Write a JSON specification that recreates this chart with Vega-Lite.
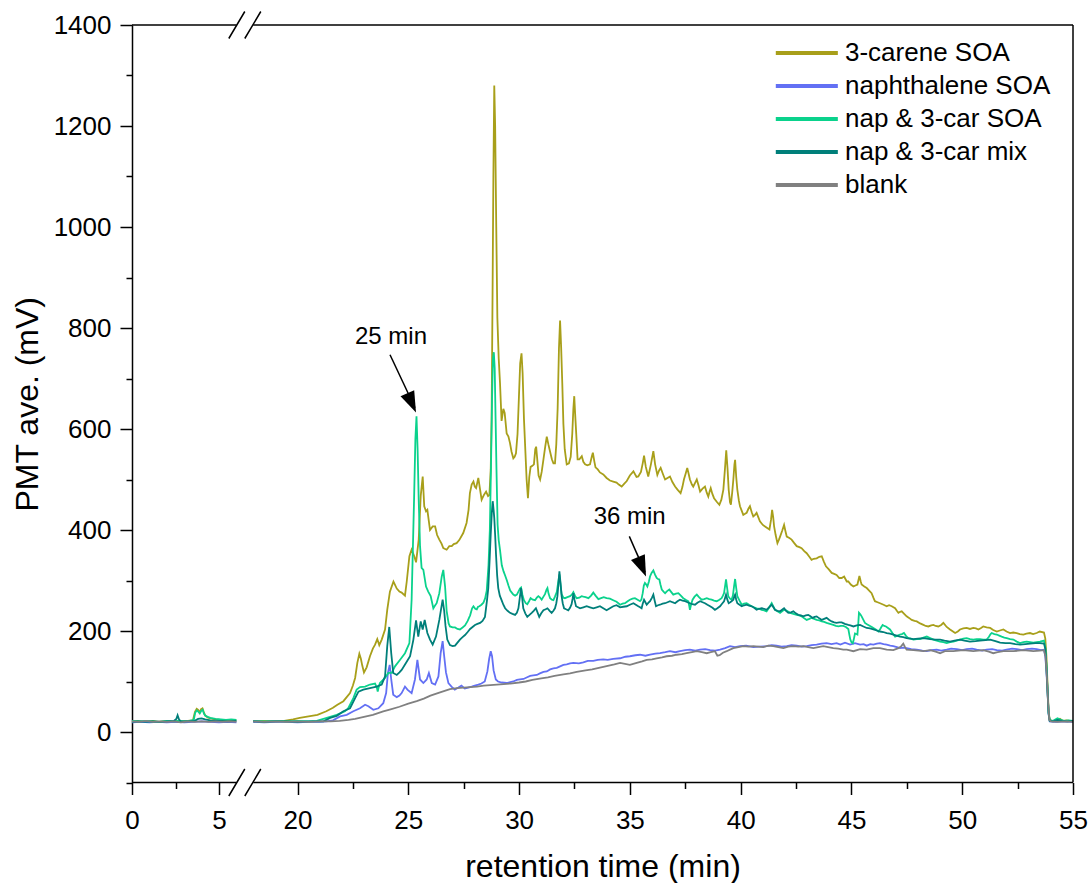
{
  "$schema": "https://vega.github.io/schema/vega-lite/v6.json",
  "width": 941,
  "height": 757.5,
  "autosize": {"type": "none"},
  "padding": {"left": 132, "top": 25, "right": 18, "bottom": 100.5},
  "background": "white",
  "config": {"view": {"stroke": null}, "font": "Liberation Sans", "axis": {"grid": false, "tickSize": 12}},
  "datasets": {
    "carene": [
      {"t":0,"v":21},{"t":0.3,"v":22},{"t":0.6,"v":20},{"t":0.9,"v":21},{"t":1.2,"v":22},{"t":1.5,"v":20},{"t":1.8,"v":21},{"t":2.1,"v":22},{"t":2.4,"v":20},{"t":2.6,"v":22},{"t":2.9,"v":21},{"t":3.2,"v":22},{"t":3.5,"v":23},{"t":3.62,"v":40},{"t":3.72,"v":46},{"t":3.8,"v":44},{"t":3.88,"v":38},{"t":3.96,"v":45},{"t":4.05,"v":47},{"t":4.12,"v":40},{"t":4.2,"v":33},{"t":4.35,"v":29},{"t":4.5,"v":27},{"t":4.8,"v":25},{"t":5.1,"v":24},{"t":5.4,"v":23},{"t":5.7,"v":24},{"t":6,"v":23},
      {"t":12,"v":null},
      {"t":18,"v":21},{"t":18.5,"v":22},{"t":19,"v":21},{"t":19.4,"v":22},{"t":19.8,"v":25},{"t":20.1,"v":28},{"t":20.5,"v":31},{"t":20.9,"v":34},{"t":21.3,"v":41},{"t":21.6,"v":48},{"t":21.8,"v":54},{"t":22.07,"v":61},{"t":22.37,"v":77},{"t":22.5,"v":92},{"t":22.6,"v":107},{"t":22.7,"v":137},{"t":22.79,"v":155},{"t":22.86,"v":145},{"t":22.92,"v":132},{"t":23,"v":118},{"t":23.12,"v":128},{"t":23.27,"v":150},{"t":23.4,"v":165},{"t":23.5,"v":173},{"t":23.6,"v":184},{"t":23.69,"v":172},{"t":23.8,"v":183},{"t":23.95,"v":203},{"t":24.05,"v":242},{"t":24.17,"v":278},{"t":24.33,"v":298},{"t":24.48,"v":284},{"t":24.6,"v":278},{"t":24.7,"v":276},{"t":24.85,"v":270},{"t":24.93,"v":298},{"t":25.05,"v":348},{"t":25.15,"v":361},{"t":25.26,"v":349},{"t":25.35,"v":336},{"t":25.47,"v":381},{"t":25.56,"v":467},{"t":25.65,"v":506},{"t":25.72,"v":447},{"t":25.8,"v":437},{"t":25.86,"v":440},{"t":25.98,"v":400},{"t":26.1,"v":407},{"t":26.21,"v":407},{"t":26.3,"v":390},{"t":26.4,"v":381},{"t":26.5,"v":373},{"t":26.58,"v":364},{"t":26.73,"v":361},{"t":26.85,"v":368},{"t":26.96,"v":368},{"t":27.05,"v":372},{"t":27.18,"v":374},{"t":27.3,"v":380},{"t":27.48,"v":394},{"t":27.63,"v":414},{"t":27.72,"v":440},{"t":27.78,"v":473},{"t":27.86,"v":490},{"t":27.94,"v":496},{"t":28,"v":486},{"t":28.06,"v":483},{"t":28.16,"v":503},{"t":28.24,"v":480},{"t":28.31,"v":460},{"t":28.42,"v":470},{"t":28.51,"v":476},{"t":28.6,"v":467},{"t":28.66,"v":469},{"t":28.72,"v":520},{"t":28.76,"v":620},{"t":28.8,"v":850},{"t":28.84,"v":1100},{"t":28.88,"v":1280},{"t":28.92,"v":1200},{"t":28.97,"v":1000},{"t":29.02,"v":820},{"t":29.08,"v":740},{"t":29.14,"v":690},{"t":29.21,"v":616},{"t":29.29,"v":640},{"t":29.35,"v":632},{"t":29.44,"v":591},{"t":29.52,"v":585},{"t":29.59,"v":572},{"t":29.66,"v":555},{"t":29.74,"v":542},{"t":29.8,"v":545},{"t":29.86,"v":552},{"t":29.93,"v":590},{"t":29.99,"v":660},{"t":30.05,"v":730},{"t":30.11,"v":750},{"t":30.16,"v":710},{"t":30.22,"v":620},{"t":30.28,"v":560},{"t":30.34,"v":500},{"t":30.4,"v":463},{"t":30.46,"v":505},{"t":30.52,"v":525},{"t":30.6,"v":527},{"t":30.67,"v":530},{"t":30.73,"v":560},{"t":30.77,"v":565},{"t":30.82,"v":540},{"t":30.88,"v":508},{"t":30.95,"v":500},{"t":31.02,"v":515},{"t":31.1,"v":540},{"t":31.18,"v":565},{"t":31.25,"v":585},{"t":31.32,"v":570},{"t":31.4,"v":555},{"t":31.48,"v":540},{"t":31.55,"v":532},{"t":31.62,"v":532},{"t":31.68,"v":570},{"t":31.74,"v":640},{"t":31.8,"v":760},{"t":31.85,"v":815},{"t":31.9,"v":760},{"t":31.95,"v":690},{"t":32,"v":610},{"t":32.06,"v":560},{"t":32.15,"v":530},{"t":32.25,"v":532},{"t":32.33,"v":545},{"t":32.4,"v":590},{"t":32.45,"v":640},{"t":32.49,"v":665},{"t":32.53,"v":630},{"t":32.58,"v":590},{"t":32.64,"v":540},{"t":32.72,"v":540},{"t":32.83,"v":546},{"t":32.9,"v":535},{"t":32.98,"v":530},{"t":33.08,"v":528},{"t":33.2,"v":530},{"t":33.28,"v":545},{"t":33.33,"v":553},{"t":33.4,"v":535},{"t":33.45,"v":524},{"t":33.55,"v":520},{"t":33.65,"v":514},{"t":33.8,"v":510},{"t":33.95,"v":503},{"t":34.1,"v":498},{"t":34.25,"v":496},{"t":34.4,"v":494},{"t":34.5,"v":490},{"t":34.63,"v":486},{"t":34.75,"v":492},{"t":34.86,"v":497},{"t":35,"v":508},{"t":35.16,"v":516},{"t":35.3,"v":505},{"t":35.38,"v":506},{"t":35.5,"v":515},{"t":35.58,"v":532},{"t":35.64,"v":547},{"t":35.72,"v":525},{"t":35.83,"v":506},{"t":35.95,"v":530},{"t":36.06,"v":556},{"t":36.14,"v":530},{"t":36.24,"v":509},{"t":36.32,"v":518},{"t":36.39,"v":523},{"t":36.5,"v":510},{"t":36.59,"v":500},{"t":36.7,"v":503},{"t":36.81,"v":506},{"t":36.92,"v":495},{"t":37.04,"v":486},{"t":37.15,"v":480},{"t":37.29,"v":473},{"t":37.37,"v":485},{"t":37.44,"v":500},{"t":37.52,"v":512},{"t":37.59,"v":523},{"t":37.66,"v":510},{"t":37.71,"v":500},{"t":37.8,"v":490},{"t":37.86,"v":486},{"t":37.95,"v":494},{"t":38.02,"v":500},{"t":38.1,"v":488},{"t":38.17,"v":476},{"t":38.28,"v":482},{"t":38.39,"v":486},{"t":38.47,"v":474},{"t":38.54,"v":466},{"t":38.6,"v":476},{"t":38.65,"v":483},{"t":38.72,"v":472},{"t":38.8,"v":463},{"t":38.92,"v":456},{"t":39.04,"v":450},{"t":39.13,"v":460},{"t":39.22,"v":480},{"t":39.29,"v":520},{"t":39.35,"v":558},{"t":39.41,"v":520},{"t":39.46,"v":480},{"t":39.52,"v":455},{"t":39.56,"v":450},{"t":39.62,"v":475},{"t":39.67,"v":500},{"t":39.72,"v":530},{"t":39.75,"v":539},{"t":39.8,"v":505},{"t":39.85,"v":480},{"t":39.92,"v":458},{"t":39.97,"v":447},{"t":40.05,"v":438},{"t":40.12,"v":430},{"t":40.2,"v":432},{"t":40.27,"v":434},{"t":40.35,"v":442},{"t":40.42,"v":447},{"t":40.5,"v":435},{"t":40.57,"v":427},{"t":40.65,"v":430},{"t":40.72,"v":434},{"t":40.8,"v":425},{"t":40.87,"v":417},{"t":41,"v":410},{"t":41.1,"v":407},{"t":41.2,"v":404},{"t":41.3,"v":401},{"t":41.37,"v":420},{"t":41.42,"v":440},{"t":41.47,"v":425},{"t":41.51,"v":407},{"t":41.58,"v":390},{"t":41.66,"v":374},{"t":41.72,"v":380},{"t":41.78,"v":387},{"t":41.87,"v":398},{"t":41.96,"v":410},{"t":42.02,"v":398},{"t":42.08,"v":387},{"t":42.2,"v":384},{"t":42.3,"v":381},{"t":42.42,"v":374},{"t":42.53,"v":368},{"t":42.65,"v":366},{"t":42.75,"v":364},{"t":42.87,"v":358},{"t":42.98,"v":354},{"t":43.1,"v":347},{"t":43.2,"v":341},{"t":43.3,"v":343},{"t":43.43,"v":344},{"t":43.55,"v":347},{"t":43.66,"v":348},{"t":43.75,"v":338},{"t":43.85,"v":328},{"t":43.98,"v":322},{"t":44.11,"v":315},{"t":44.22,"v":313},{"t":44.33,"v":311},{"t":44.45,"v":305},{"t":44.56,"v":305},{"t":44.67,"v":308},{"t":44.79,"v":298},{"t":44.86,"v":298},{"t":44.97,"v":292},{"t":45.09,"v":288},{"t":45.18,"v":290},{"t":45.27,"v":292},{"t":45.36,"v":309},{"t":45.42,"v":298},{"t":45.46,"v":292},{"t":45.58,"v":288},{"t":45.69,"v":285},{"t":45.8,"v":280},{"t":45.91,"v":275},{"t":46,"v":265},{"t":46.06,"v":259},{"t":46.18,"v":257},{"t":46.29,"v":255},{"t":46.45,"v":252},{"t":46.59,"v":249},{"t":46.7,"v":251},{"t":46.82,"v":249},{"t":46.97,"v":245},{"t":47.05,"v":240},{"t":47.12,"v":236},{"t":47.2,"v":238},{"t":47.27,"v":239},{"t":47.38,"v":234},{"t":47.49,"v":229},{"t":47.6,"v":226},{"t":47.72,"v":222},{"t":47.85,"v":220},{"t":47.95,"v":219},{"t":48.1,"v":215},{"t":48.25,"v":212},{"t":48.35,"v":210},{"t":48.47,"v":209},{"t":48.6,"v":211},{"t":48.7,"v":212},{"t":48.8,"v":210},{"t":48.92,"v":209},{"t":49.05,"v":212},{"t":49.15,"v":216},{"t":49.3,"v":208},{"t":49.45,"v":203},{"t":49.55,"v":200},{"t":49.68,"v":196},{"t":49.8,"v":199},{"t":49.9,"v":203},{"t":50.05,"v":205},{"t":50.2,"v":206},{"t":50.35,"v":204},{"t":50.5,"v":206},{"t":50.62,"v":205},{"t":50.73,"v":203},{"t":50.85,"v":206},{"t":50.95,"v":209},{"t":51.1,"v":207},{"t":51.26,"v":206},{"t":51.4,"v":202},{"t":51.56,"v":199},{"t":51.7,"v":201},{"t":51.86,"v":203},{"t":52,"v":199},{"t":52.16,"v":196},{"t":52.3,"v":197},{"t":52.46,"v":196},{"t":52.6,"v":194},{"t":52.76,"v":193},{"t":52.9,"v":195},{"t":53.06,"v":196},{"t":53.2,"v":194},{"t":53.36,"v":196},{"t":53.5,"v":199},{"t":53.69,"v":197},{"t":53.75,"v":185},{"t":53.8,"v":150},{"t":53.85,"v":95},{"t":53.9,"v":40},{"t":53.95,"v":24},{"t":54.1,"v":21},{"t":54.25,"v":23},{"t":54.41,"v":26},{"t":54.55,"v":22},{"t":54.71,"v":23},{"t":54.85,"v":22},{"t":55,"v":21}
    ],
    "naph": [
      {"t":0,"v":19},{"t":0.5,"v":20},{"t":1,"v":19},{"t":1.5,"v":20},{"t":2,"v":19},{"t":2.5,"v":20},{"t":3,"v":19},{"t":3.5,"v":20},{"t":4,"v":21},{"t":4.5,"v":20},{"t":5,"v":19},{"t":5.5,"v":20},{"t":6,"v":19},
      {"t":12,"v":null},
      {"t":18,"v":20},{"t":18.5,"v":19},{"t":19,"v":20},{"t":19.5,"v":20},{"t":20,"v":19},{"t":20.5,"v":20},{"t":21,"v":20},{"t":21.3,"v":21},{"t":21.6,"v":23},{"t":21.92,"v":31},{"t":22.22,"v":34},{"t":22.52,"v":41},{"t":22.82,"v":47},{"t":23.05,"v":54},{"t":23.2,"v":51},{"t":23.42,"v":44},{"t":23.65,"v":47},{"t":23.87,"v":57},{"t":24,"v":77},{"t":24.08,"v":117},{"t":24.16,"v":133},{"t":24.23,"v":104},{"t":24.32,"v":74},{"t":24.48,"v":69},{"t":24.6,"v":72},{"t":24.7,"v":77},{"t":24.85,"v":90},{"t":24.96,"v":84},{"t":25.15,"v":77},{"t":25.3,"v":104},{"t":25.41,"v":143},{"t":25.53,"v":104},{"t":25.68,"v":97},{"t":25.83,"v":104},{"t":25.93,"v":117},{"t":26.06,"v":97},{"t":26.21,"v":94},{"t":26.36,"v":110},{"t":26.46,"v":156},{"t":26.55,"v":180},{"t":26.62,"v":150},{"t":26.7,"v":118},{"t":26.81,"v":97},{"t":26.95,"v":90},{"t":27.1,"v":84},{"t":27.26,"v":88},{"t":27.4,"v":92},{"t":27.55,"v":86},{"t":27.7,"v":88},{"t":27.86,"v":90},{"t":28,"v":92},{"t":28.16,"v":94},{"t":28.3,"v":96},{"t":28.45,"v":100},{"t":28.57,"v":120},{"t":28.65,"v":145},{"t":28.72,"v":160},{"t":28.78,"v":150},{"t":28.85,"v":122},{"t":28.95,"v":104},{"t":29.05,"v":100},{"t":29.21,"v":98},{"t":29.44,"v":97},{"t":29.6,"v":99},{"t":29.74,"v":100},{"t":29.9,"v":103},{"t":30.04,"v":104},{"t":30.2,"v":105},{"t":30.34,"v":108},{"t":30.5,"v":111},{"t":30.64,"v":112},{"t":30.8,"v":113},{"t":30.94,"v":116},{"t":31.1,"v":119},{"t":31.25,"v":120},{"t":31.4,"v":124},{"t":31.55,"v":126},{"t":31.7,"v":127},{"t":31.85,"v":130},{"t":32,"v":133},{"t":32.15,"v":134},{"t":32.3,"v":136},{"t":32.45,"v":137},{"t":32.7,"v":136},{"t":32.9,"v":138},{"t":33.1,"v":141},{"t":33.35,"v":141},{"t":33.55,"v":143},{"t":33.8,"v":144},{"t":34,"v":143},{"t":34.25,"v":145},{"t":34.56,"v":146},{"t":34.8,"v":149},{"t":35,"v":150},{"t":35.25,"v":152},{"t":35.46,"v":153},{"t":35.7,"v":151},{"t":35.91,"v":153},{"t":36.15,"v":155},{"t":36.36,"v":156},{"t":36.6,"v":158},{"t":36.81,"v":160},{"t":37.05,"v":158},{"t":37.26,"v":160},{"t":37.5,"v":162},{"t":37.71,"v":163},{"t":37.95,"v":161},{"t":38.17,"v":163},{"t":38.4,"v":164},{"t":38.62,"v":162},{"t":38.85,"v":161},{"t":39.07,"v":163},{"t":39.3,"v":166},{"t":39.52,"v":170},{"t":39.75,"v":168},{"t":39.97,"v":170},{"t":40.25,"v":171},{"t":40.57,"v":168},{"t":40.85,"v":169},{"t":41.17,"v":170},{"t":41.4,"v":172},{"t":41.62,"v":171},{"t":41.85,"v":169},{"t":42.08,"v":170},{"t":42.3,"v":172},{"t":42.53,"v":171},{"t":42.75,"v":169},{"t":42.98,"v":170},{"t":43.2,"v":172},{"t":43.43,"v":173},{"t":43.65,"v":175},{"t":43.88,"v":176},{"t":44.1,"v":174},{"t":44.33,"v":176},{"t":44.5,"v":173},{"t":44.71,"v":177},{"t":44.94,"v":173},{"t":45.16,"v":176},{"t":45.39,"v":173},{"t":45.55,"v":174},{"t":45.69,"v":171},{"t":45.85,"v":174},{"t":45.99,"v":173},{"t":46.15,"v":175},{"t":46.29,"v":176},{"t":46.45,"v":174},{"t":46.59,"v":173},{"t":46.75,"v":171},{"t":46.89,"v":170},{"t":47.05,"v":168},{"t":47.19,"v":166},{"t":47.35,"v":167},{"t":47.49,"v":166},{"t":47.7,"v":164},{"t":47.95,"v":163},{"t":48.2,"v":161},{"t":48.4,"v":160},{"t":48.6,"v":162},{"t":48.85,"v":163},{"t":49.05,"v":161},{"t":49.3,"v":163},{"t":49.5,"v":165},{"t":49.75,"v":164},{"t":50,"v":162},{"t":50.2,"v":164},{"t":50.45,"v":165},{"t":50.65,"v":163},{"t":50.9,"v":161},{"t":51.1,"v":163},{"t":51.35,"v":164},{"t":51.56,"v":162},{"t":51.8,"v":161},{"t":52,"v":163},{"t":52.25,"v":165},{"t":52.46,"v":164},{"t":52.7,"v":162},{"t":52.91,"v":164},{"t":53.15,"v":165},{"t":53.36,"v":164},{"t":53.55,"v":162},{"t":53.69,"v":163},{"t":53.75,"v":150},{"t":53.8,"v":120},{"t":53.85,"v":80},{"t":53.9,"v":35},{"t":53.95,"v":21},{"t":54.2,"v":20},{"t":54.6,"v":21},{"t":55,"v":20}
    ],
    "napcar": [
      {"t":0,"v":22},{"t":0.4,"v":21},{"t":0.8,"v":22},{"t":1.2,"v":21},{"t":1.6,"v":20},{"t":2,"v":22},{"t":2.4,"v":21},{"t":2.7,"v":22},{"t":3,"v":21},{"t":3.3,"v":22},{"t":3.55,"v":24},{"t":3.63,"v":38},{"t":3.73,"v":43},{"t":3.82,"v":40},{"t":3.9,"v":37},{"t":3.98,"v":42},{"t":4.06,"v":44},{"t":4.14,"v":36},{"t":4.22,"v":32},{"t":4.35,"v":30},{"t":4.5,"v":28},{"t":4.8,"v":26},{"t":5.1,"v":25},{"t":5.4,"v":24},{"t":5.7,"v":25},{"t":6,"v":24},
      {"t":12,"v":null},
      {"t":18,"v":22},{"t":18.5,"v":21},{"t":19,"v":22},{"t":19.5,"v":21},{"t":20,"v":22},{"t":20.5,"v":21},{"t":20.87,"v":22},{"t":21.32,"v":28},{"t":21.77,"v":34},{"t":22.14,"v":41},{"t":22.29,"v":47},{"t":22.52,"v":67},{"t":22.67,"v":84},{"t":22.82,"v":89},{"t":23.05,"v":90},{"t":23.27,"v":94},{"t":23.5,"v":96},{"t":23.58,"v":88},{"t":23.62,"v":80},{"t":23.67,"v":90},{"t":23.72,"v":97},{"t":23.95,"v":107},{"t":24.1,"v":117},{"t":24.25,"v":117},{"t":24.4,"v":130},{"t":24.63,"v":143},{"t":24.85,"v":156},{"t":25.05,"v":176},{"t":25.15,"v":262},{"t":25.26,"v":460},{"t":25.32,"v":580},{"t":25.37,"v":625},{"t":25.42,"v":560},{"t":25.47,"v":460},{"t":25.53,"v":368},{"t":25.6,"v":325},{"t":25.68,"v":321},{"t":25.8,"v":288},{"t":25.9,"v":278},{"t":26.01,"v":269},{"t":26.13,"v":245},{"t":26.2,"v":250},{"t":26.28,"v":255},{"t":26.4,"v":275},{"t":26.51,"v":308},{"t":26.58,"v":321},{"t":26.66,"v":288},{"t":26.73,"v":240},{"t":26.82,"v":215},{"t":26.88,"v":209},{"t":27,"v":207},{"t":27.11,"v":207},{"t":27.22,"v":204},{"t":27.33,"v":203},{"t":27.45,"v":207},{"t":27.56,"v":211},{"t":27.68,"v":220},{"t":27.79,"v":231},{"t":27.88,"v":245},{"t":27.94,"v":249},{"t":28.02,"v":244},{"t":28.09,"v":243},{"t":28.15,"v":248},{"t":28.21,"v":249},{"t":28.3,"v":252},{"t":28.39,"v":256},{"t":28.47,"v":265},{"t":28.54,"v":280},{"t":28.62,"v":330},{"t":28.68,"v":400},{"t":28.73,"v":520},{"t":28.78,"v":660},{"t":28.82,"v":740},{"t":28.86,"v":752},{"t":28.9,"v":720},{"t":28.94,"v":620},{"t":28.98,"v":520},{"t":29.03,"v":411},{"t":29.08,"v":380},{"t":29.14,"v":360},{"t":29.22,"v":330},{"t":29.3,"v":318},{"t":29.37,"v":310},{"t":29.45,"v":300},{"t":29.52,"v":290},{"t":29.6,"v":280},{"t":29.67,"v":276},{"t":29.74,"v":272},{"t":29.82,"v":270},{"t":29.9,"v":272},{"t":29.97,"v":278},{"t":30.04,"v":284},{"t":30.09,"v":286},{"t":30.15,"v":272},{"t":30.22,"v":261},{"t":30.3,"v":255},{"t":30.37,"v":253},{"t":30.45,"v":259},{"t":30.52,"v":265},{"t":30.62,"v":262},{"t":30.72,"v":261},{"t":30.8,"v":266},{"t":30.87,"v":269},{"t":30.95,"v":266},{"t":31.02,"v":262},{"t":31.1,"v":268},{"t":31.17,"v":273},{"t":31.24,"v":282},{"t":31.28,"v":285},{"t":31.33,"v":274},{"t":31.4,"v":265},{"t":31.48,"v":262},{"t":31.55,"v":261},{"t":31.62,"v":268},{"t":31.7,"v":277},{"t":31.76,"v":295},{"t":31.82,"v":312},{"t":31.87,"v":292},{"t":31.92,"v":273},{"t":32,"v":266},{"t":32.07,"v":265},{"t":32.18,"v":267},{"t":32.3,"v":269},{"t":32.38,"v":272},{"t":32.45,"v":277},{"t":32.52,"v":270},{"t":32.6,"v":265},{"t":32.72,"v":266},{"t":32.82,"v":269},{"t":32.9,"v":268},{"t":33,"v":267},{"t":33.13,"v":265},{"t":33.25,"v":270},{"t":33.35,"v":276},{"t":33.45,"v":270},{"t":33.58,"v":263},{"t":33.7,"v":265},{"t":33.82,"v":267},{"t":33.95,"v":265},{"t":34.1,"v":264},{"t":34.25,"v":261},{"t":34.4,"v":258},{"t":34.56,"v":252},{"t":34.67,"v":254},{"t":34.78,"v":255},{"t":34.9,"v":259},{"t":35,"v":262},{"t":35.12,"v":264},{"t":35.23,"v":265},{"t":35.35,"v":262},{"t":35.46,"v":259},{"t":35.52,"v":262},{"t":35.58,"v":275},{"t":35.63,"v":290},{"t":35.68,"v":295},{"t":35.74,"v":292},{"t":35.79,"v":288},{"t":35.86,"v":298},{"t":35.91,"v":308},{"t":35.98,"v":315},{"t":36.06,"v":320},{"t":36.13,"v":312},{"t":36.21,"v":305},{"t":36.27,"v":303},{"t":36.33,"v":302},{"t":36.38,"v":292},{"t":36.44,"v":282},{"t":36.52,"v":278},{"t":36.59,"v":275},{"t":36.68,"v":279},{"t":36.78,"v":282},{"t":36.87,"v":277},{"t":36.96,"v":272},{"t":37.08,"v":274},{"t":37.19,"v":275},{"t":37.3,"v":270},{"t":37.41,"v":265},{"t":37.52,"v":262},{"t":37.64,"v":259},{"t":37.68,"v":250},{"t":37.71,"v":242},{"t":37.76,"v":252},{"t":37.83,"v":262},{"t":37.92,"v":268},{"t":38.02,"v":272},{"t":38.12,"v":267},{"t":38.24,"v":262},{"t":38.35,"v":263},{"t":38.47,"v":265},{"t":38.58,"v":263},{"t":38.69,"v":262},{"t":38.8,"v":260},{"t":38.92,"v":259},{"t":39.04,"v":262},{"t":39.14,"v":265},{"t":39.2,"v":270},{"t":39.25,"v":275},{"t":39.3,"v":290},{"t":39.34,"v":302},{"t":39.39,"v":285},{"t":39.44,"v":269},{"t":39.52,"v":264},{"t":39.59,"v":262},{"t":39.65,"v":270},{"t":39.7,"v":288},{"t":39.75,"v":303},{"t":39.8,"v":285},{"t":39.85,"v":269},{"t":39.95,"v":260},{"t":40.05,"v":252},{"t":40.15,"v":254},{"t":40.27,"v":255},{"t":40.38,"v":252},{"t":40.5,"v":249},{"t":40.6,"v":247},{"t":40.72,"v":245},{"t":40.84,"v":244},{"t":40.95,"v":242},{"t":41.06,"v":241},{"t":41.17,"v":239},{"t":41.28,"v":246},{"t":41.4,"v":255},{"t":41.48,"v":248},{"t":41.55,"v":242},{"t":41.66,"v":239},{"t":41.78,"v":236},{"t":41.9,"v":240},{"t":42,"v":242},{"t":42.12,"v":239},{"t":42.23,"v":236},{"t":42.38,"v":234},{"t":42.53,"v":232},{"t":42.64,"v":231},{"t":42.75,"v":229},{"t":42.87,"v":225},{"t":42.98,"v":222},{"t":43.1,"v":224},{"t":43.2,"v":226},{"t":43.32,"v":224},{"t":43.43,"v":222},{"t":43.55,"v":221},{"t":43.66,"v":219},{"t":43.77,"v":218},{"t":43.88,"v":216},{"t":44.03,"v":214},{"t":44.18,"v":212},{"t":44.3,"v":210},{"t":44.41,"v":209},{"t":44.52,"v":210},{"t":44.63,"v":210},{"t":44.75,"v":208},{"t":44.86,"v":204},{"t":44.91,"v":192},{"t":44.95,"v":183},{"t":45,"v":178},{"t":45.06,"v":176},{"t":45.1,"v":182},{"t":45.16,"v":195},{"t":45.22,"v":194},{"t":45.27,"v":193},{"t":45.31,"v":215},{"t":45.34,"v":236},{"t":45.4,"v":233},{"t":45.46,"v":229},{"t":45.54,"v":222},{"t":45.61,"v":216},{"t":45.72,"v":213},{"t":45.84,"v":210},{"t":45.92,"v":208},{"t":45.99,"v":206},{"t":46.1,"v":203},{"t":46.22,"v":199},{"t":46.3,"v":204},{"t":46.35,"v":208},{"t":46.41,"v":212},{"t":46.48,"v":210},{"t":46.56,"v":209},{"t":46.65,"v":206},{"t":46.74,"v":203},{"t":46.85,"v":196},{"t":46.97,"v":189},{"t":47.08,"v":191},{"t":47.19,"v":193},{"t":47.28,"v":194},{"t":47.37,"v":196},{"t":47.47,"v":190},{"t":47.57,"v":186},{"t":47.68,"v":185},{"t":47.8,"v":183},{"t":47.95,"v":184},{"t":48.1,"v":184},{"t":48.25,"v":187},{"t":48.4,"v":189},{"t":48.55,"v":186},{"t":48.7,"v":183},{"t":48.85,"v":181},{"t":49,"v":179},{"t":49.15,"v":178},{"t":49.3,"v":176},{"t":49.45,"v":178},{"t":49.6,"v":179},{"t":49.75,"v":181},{"t":49.9,"v":183},{"t":50.05,"v":185},{"t":50.2,"v":186},{"t":50.35,"v":184},{"t":50.5,"v":183},{"t":50.65,"v":184},{"t":50.8,"v":184},{"t":50.95,"v":183},{"t":51.1,"v":183},{"t":51.2,"v":188},{"t":51.28,"v":194},{"t":51.33,"v":196},{"t":51.45,"v":194},{"t":51.56,"v":193},{"t":51.67,"v":191},{"t":51.78,"v":189},{"t":51.9,"v":187},{"t":52.01,"v":186},{"t":52.16,"v":184},{"t":52.31,"v":183},{"t":52.46,"v":179},{"t":52.61,"v":176},{"t":52.76,"v":178},{"t":52.91,"v":179},{"t":53.06,"v":178},{"t":53.21,"v":177},{"t":53.36,"v":178},{"t":53.51,"v":179},{"t":53.69,"v":181},{"t":53.75,"v":168},{"t":53.8,"v":135},{"t":53.85,"v":85},{"t":53.9,"v":38},{"t":53.95,"v":23},{"t":54.1,"v":22},{"t":54.3,"v":27},{"t":54.45,"v":24},{"t":54.6,"v":22},{"t":54.8,"v":23},{"t":55,"v":22}
    ],
    "mix": [
      {"t":0,"v":20},{"t":0.4,"v":21},{"t":0.8,"v":20},{"t":1.2,"v":21},{"t":1.6,"v":20},{"t":2,"v":21},{"t":2.4,"v":22},{"t":2.55,"v":26},{"t":2.62,"v":33},{"t":2.7,"v":25},{"t":2.8,"v":21},{"t":3.2,"v":21},{"t":3.6,"v":22},{"t":3.8,"v":26},{"t":4,"v":27},{"t":4.2,"v":25},{"t":4.5,"v":23},{"t":5,"v":22},{"t":5.5,"v":21},{"t":6,"v":22},
      {"t":12,"v":null},
      {"t":18,"v":21},{"t":18.5,"v":20},{"t":19,"v":21},{"t":19.5,"v":21},{"t":20,"v":20},{"t":20.5,"v":21},{"t":21.17,"v":21},{"t":21.47,"v":28},{"t":21.77,"v":32},{"t":22.07,"v":41},{"t":22.37,"v":47},{"t":22.6,"v":67},{"t":22.75,"v":80},{"t":22.97,"v":84},{"t":23.27,"v":87},{"t":23.57,"v":90},{"t":23.8,"v":94},{"t":23.95,"v":110},{"t":24.05,"v":170},{"t":24.14,"v":208},{"t":24.23,"v":156},{"t":24.32,"v":117},{"t":24.48,"v":113},{"t":24.6,"v":118},{"t":24.7,"v":123},{"t":24.9,"v":137},{"t":25.08,"v":150},{"t":25.23,"v":183},{"t":25.35,"v":221},{"t":25.45,"v":189},{"t":25.56,"v":219},{"t":25.65,"v":203},{"t":25.74,"v":222},{"t":25.86,"v":196},{"t":25.98,"v":183},{"t":26.1,"v":173},{"t":26.25,"v":189},{"t":26.4,"v":222},{"t":26.55,"v":262},{"t":26.62,"v":240},{"t":26.68,"v":210},{"t":26.76,"v":183},{"t":26.88,"v":172},{"t":27,"v":170},{"t":27.11,"v":171},{"t":27.22,"v":177},{"t":27.33,"v":183},{"t":27.45,"v":188},{"t":27.56,"v":192},{"t":27.68,"v":198},{"t":27.79,"v":204},{"t":27.9,"v":208},{"t":28.01,"v":212},{"t":28.12,"v":214},{"t":28.24,"v":216},{"t":28.35,"v":220},{"t":28.46,"v":228},{"t":28.55,"v":260},{"t":28.61,"v":285},{"t":28.67,"v":340},{"t":28.72,"v":391},{"t":28.77,"v":435},{"t":28.81,"v":457},{"t":28.85,"v":440},{"t":28.88,"v":424},{"t":28.92,"v":390},{"t":28.96,"v":351},{"t":29.01,"v":310},{"t":29.06,"v":285},{"t":29.13,"v":270},{"t":29.21,"v":261},{"t":29.29,"v":252},{"t":29.37,"v":245},{"t":29.48,"v":240},{"t":29.59,"v":236},{"t":29.7,"v":234},{"t":29.82,"v":232},{"t":29.9,"v":236},{"t":29.97,"v":245},{"t":30.03,"v":265},{"t":30.09,"v":285},{"t":30.14,"v":265},{"t":30.19,"v":245},{"t":30.28,"v":235},{"t":30.37,"v":228},{"t":30.47,"v":232},{"t":30.57,"v":236},{"t":30.66,"v":240},{"t":30.76,"v":245},{"t":30.84,"v":236},{"t":30.91,"v":228},{"t":31,"v":235},{"t":31.1,"v":241},{"t":31.2,"v":243},{"t":31.28,"v":245},{"t":31.38,"v":240},{"t":31.47,"v":236},{"t":31.55,"v":240},{"t":31.62,"v":245},{"t":31.68,"v":255},{"t":31.73,"v":269},{"t":31.78,"v":295},{"t":31.82,"v":318},{"t":31.87,"v":295},{"t":31.92,"v":269},{"t":31.97,"v":255},{"t":32.03,"v":245},{"t":32.12,"v":243},{"t":32.22,"v":241},{"t":32.3,"v":246},{"t":32.37,"v":253},{"t":32.42,"v":265},{"t":32.45,"v":275},{"t":32.5,"v":262},{"t":32.57,"v":249},{"t":32.66,"v":247},{"t":32.75,"v":245},{"t":32.9,"v":247},{"t":33.05,"v":249},{"t":33.2,"v":247},{"t":33.35,"v":245},{"t":33.5,"v":247},{"t":33.65,"v":249},{"t":33.8,"v":245},{"t":33.95,"v":241},{"t":34.1,"v":245},{"t":34.25,"v":249},{"t":34.4,"v":251},{"t":34.56,"v":247},{"t":34.7,"v":248},{"t":34.86,"v":249},{"t":35,"v":252},{"t":35.16,"v":255},{"t":35.27,"v":252},{"t":35.38,"v":249},{"t":35.46,"v":247},{"t":35.53,"v":245},{"t":35.58,"v":254},{"t":35.64,"v":262},{"t":35.7,"v":257},{"t":35.76,"v":252},{"t":35.84,"v":256},{"t":35.91,"v":259},{"t":36,"v":266},{"t":36.06,"v":272},{"t":36.12,"v":260},{"t":36.18,"v":249},{"t":36.27,"v":251},{"t":36.36,"v":252},{"t":36.48,"v":254},{"t":36.59,"v":255},{"t":36.7,"v":257},{"t":36.81,"v":259},{"t":36.92,"v":257},{"t":37.04,"v":255},{"t":37.15,"v":259},{"t":37.26,"v":262},{"t":37.38,"v":260},{"t":37.49,"v":259},{"t":37.6,"v":257},{"t":37.71,"v":255},{"t":37.82,"v":253},{"t":37.94,"v":252},{"t":38.05,"v":256},{"t":38.17,"v":259},{"t":38.28,"v":257},{"t":38.39,"v":255},{"t":38.5,"v":252},{"t":38.62,"v":249},{"t":38.73,"v":246},{"t":38.84,"v":242},{"t":38.95,"v":245},{"t":39.07,"v":249},{"t":39.16,"v":254},{"t":39.25,"v":259},{"t":39.3,"v":266},{"t":39.34,"v":272},{"t":39.4,"v":262},{"t":39.46,"v":255},{"t":39.53,"v":257},{"t":39.59,"v":259},{"t":39.67,"v":262},{"t":39.71,"v":268},{"t":39.75,"v":272},{"t":39.8,"v":262},{"t":39.85,"v":255},{"t":39.95,"v":252},{"t":40.05,"v":249},{"t":40.16,"v":251},{"t":40.27,"v":252},{"t":40.38,"v":250},{"t":40.5,"v":249},{"t":40.61,"v":246},{"t":40.72,"v":242},{"t":40.83,"v":244},{"t":40.95,"v":245},{"t":41.06,"v":244},{"t":41.17,"v":242},{"t":41.28,"v":247},{"t":41.4,"v":252},{"t":41.48,"v":247},{"t":41.55,"v":242},{"t":41.66,"v":240},{"t":41.78,"v":239},{"t":41.87,"v":242},{"t":41.96,"v":245},{"t":42.05,"v":240},{"t":42.15,"v":236},{"t":42.27,"v":237},{"t":42.38,"v":239},{"t":42.49,"v":235},{"t":42.6,"v":232},{"t":42.72,"v":231},{"t":42.83,"v":229},{"t":42.94,"v":231},{"t":43.05,"v":232},{"t":43.15,"v":229},{"t":43.25,"v":226},{"t":43.34,"v":228},{"t":43.43,"v":229},{"t":43.55,"v":225},{"t":43.66,"v":222},{"t":43.77,"v":224},{"t":43.88,"v":226},{"t":44,"v":222},{"t":44.11,"v":219},{"t":44.22,"v":217},{"t":44.33,"v":216},{"t":44.45,"v":217},{"t":44.56,"v":217},{"t":44.7,"v":214},{"t":44.86,"v":212},{"t":44.95,"v":211},{"t":45.09,"v":209},{"t":45.24,"v":211},{"t":45.39,"v":212},{"t":45.54,"v":209},{"t":45.69,"v":206},{"t":45.84,"v":205},{"t":45.99,"v":203},{"t":46.14,"v":201},{"t":46.29,"v":199},{"t":46.44,"v":198},{"t":46.59,"v":196},{"t":46.74,"v":195},{"t":46.89,"v":193},{"t":47.04,"v":191},{"t":47.19,"v":189},{"t":47.34,"v":188},{"t":47.49,"v":186},{"t":47.65,"v":185},{"t":47.8,"v":184},{"t":48,"v":185},{"t":48.25,"v":186},{"t":48.4,"v":185},{"t":48.55,"v":184},{"t":48.8,"v":183},{"t":49,"v":183},{"t":49.2,"v":181},{"t":49.45,"v":179},{"t":49.65,"v":181},{"t":49.9,"v":183},{"t":50.1,"v":181},{"t":50.35,"v":179},{"t":50.6,"v":180},{"t":50.8,"v":181},{"t":51.05,"v":182},{"t":51.26,"v":183},{"t":51.5,"v":180},{"t":51.71,"v":177},{"t":51.95,"v":176},{"t":52.16,"v":176},{"t":52.4,"v":174},{"t":52.61,"v":173},{"t":52.85,"v":174},{"t":53.06,"v":175},{"t":53.3,"v":176},{"t":53.51,"v":176},{"t":53.69,"v":175},{"t":53.75,"v":165},{"t":53.8,"v":130},{"t":53.85,"v":80},{"t":53.9,"v":36},{"t":53.95,"v":22},{"t":54.1,"v":21},{"t":54.3,"v":24},{"t":54.5,"v":22},{"t":54.75,"v":21},{"t":55,"v":22}
    ],
    "blank": [
      {"t":0,"v":21},{"t":0.4,"v":20},{"t":0.8,"v":22},{"t":1.2,"v":20},{"t":1.6,"v":21},{"t":2,"v":20},{"t":2.4,"v":21},{"t":2.8,"v":19},{"t":3.2,"v":21},{"t":3.6,"v":20},{"t":4,"v":21},{"t":4.4,"v":20},{"t":4.8,"v":21},{"t":5.2,"v":20},{"t":5.6,"v":21},{"t":6,"v":20},
      {"t":12,"v":null},
      {"t":18,"v":21},{"t":18.5,"v":20},{"t":19,"v":21},{"t":19.5,"v":20},{"t":20,"v":21},{"t":20.5,"v":20},{"t":21,"v":21},{"t":21.5,"v":21},{"t":21.9,"v":22},{"t":22.3,"v":24},{"t":22.6,"v":26},{"t":23,"v":30},{"t":23.4,"v":34},{"t":23.87,"v":41},{"t":24.2,"v":45},{"t":24.6,"v":50},{"t":25,"v":56},{"t":25.38,"v":61},{"t":25.7,"v":66},{"t":26,"v":72},{"t":26.4,"v":78},{"t":26.88,"v":85},{"t":27.2,"v":87},{"t":27.5,"v":88},{"t":27.8,"v":89},{"t":28.1,"v":90},{"t":28.4,"v":92},{"t":28.7,"v":93},{"t":29,"v":94},{"t":29.3,"v":95},{"t":29.6,"v":96},{"t":30,"v":98},{"t":30.3,"v":100},{"t":30.6,"v":103},{"t":31,"v":106},{"t":31.3,"v":108},{"t":31.6,"v":111},{"t":32,"v":114},{"t":32.3,"v":116},{"t":32.6,"v":119},{"t":33,"v":122},{"t":33.3,"v":124},{"t":33.6,"v":127},{"t":34,"v":131},{"t":34.3,"v":134},{"t":34.56,"v":137},{"t":35,"v":133},{"t":35.31,"v":137},{"t":35.55,"v":140},{"t":35.76,"v":143},{"t":36,"v":144},{"t":36.21,"v":146},{"t":36.45,"v":148},{"t":36.66,"v":150},{"t":36.9,"v":151},{"t":37.11,"v":153},{"t":37.35,"v":154},{"t":37.56,"v":156},{"t":37.8,"v":158},{"t":38.02,"v":160},{"t":38.25,"v":158},{"t":38.47,"v":156},{"t":38.65,"v":158},{"t":38.84,"v":160},{"t":38.95,"v":151},{"t":39.05,"v":152},{"t":39.2,"v":157},{"t":39.37,"v":160},{"t":39.52,"v":163},{"t":39.67,"v":166},{"t":39.9,"v":168},{"t":40.12,"v":170},{"t":40.35,"v":169},{"t":40.57,"v":170},{"t":40.8,"v":169},{"t":41.02,"v":168},{"t":41.25,"v":171},{"t":41.47,"v":170},{"t":41.7,"v":168},{"t":41.93,"v":166},{"t":42.15,"v":169},{"t":42.38,"v":170},{"t":42.6,"v":169},{"t":42.83,"v":170},{"t":43.05,"v":168},{"t":43.28,"v":166},{"t":43.5,"v":168},{"t":43.73,"v":170},{"t":43.95,"v":168},{"t":44.18,"v":166},{"t":44.4,"v":165},{"t":44.63,"v":163},{"t":44.79,"v":163},{"t":45.09,"v":160},{"t":45.39,"v":164},{"t":45.69,"v":163},{"t":45.99,"v":166},{"t":46.29,"v":166},{"t":46.59,"v":163},{"t":46.89,"v":162},{"t":47.12,"v":166},{"t":47.25,"v":170},{"t":47.34,"v":175},{"t":47.42,"v":168},{"t":47.49,"v":163},{"t":47.8,"v":162},{"t":48.25,"v":160},{"t":48.55,"v":162},{"t":48.8,"v":159},{"t":49,"v":156},{"t":49.22,"v":160},{"t":49.6,"v":160},{"t":50.05,"v":162},{"t":50.5,"v":160},{"t":50.95,"v":162},{"t":51.2,"v":159},{"t":51.4,"v":156},{"t":51.6,"v":158},{"t":51.86,"v":160},{"t":52.31,"v":160},{"t":52.76,"v":162},{"t":53.21,"v":160},{"t":53.5,"v":161},{"t":53.69,"v":162},{"t":53.76,"v":150},{"t":53.82,"v":110},{"t":53.88,"v":55},{"t":53.93,"v":24},{"t":54,"v":21},{"t":54.3,"v":20},{"t":54.7,"v":21},{"t":55,"v":20}
    ]
  },
  "layer": [
    {
      "data": {"name": "carene"},
      "mark": {"type": "line", "strokeWidth": 1.8, "invalid": "break-paths-show-domains"},
      "encoding": {
        "x": {
          "field": "t", "type": "quantitative",
          "scale": {"domain": [0, 6, 18, 55], "range": [0, 104.4, 121.2, 941], "nice": false, "zero": false},
          "axis": {
            "title": "retention time (min)",
            "values": [0, 2.5, 5, 20, 22.5, 25, 27.5, 30, 32.5, 35, 37.5, 40, 42.5, 45, 47.5, 50, 52.5, 55],
            "format": "d",
            "labelExpr": "datum.value % 5 === 0 ? datum.label : ''",
            "domain": false,
            "tickColor": "black", "tickWidth": 1.5,
            "tickSize": {"condition": {"test": "datum.value % 5 === 0", "value": 12}, "value": 6},
            "labelFont": "Liberation Sans", "labelFontSize": 26, "labelColor": "black",
            "labelPadding": 13, "labelOverlap": false, "labelFlush": false,
            "titleFont": "Liberation Sans", "titleFontSize": 32, "titleFontWeight": "normal", "titleColor": "black",
            "titleX": 470.5, "titleY": 93.5, "titleBaseline": "alphabetic", "titleAlign": "center"
          }
        },
        "y": {
          "field": "v", "type": "quantitative",
          "scale": {"domain": [-100, 1400], "nice": false, "zero": false},
          "axis": {
            "title": "PMT ave. (mV)",
            "values": [-100, 0, 100, 200, 300, 400, 500, 600, 700, 800, 900, 1000, 1100, 1200, 1300, 1400],
            "format": "d",
            "labelExpr": "datum.value % 200 === 0 ? datum.label : ''",
            "domainColor": "black", "domainWidth": 1.5,
            "tickColor": "black", "tickWidth": 1.5,
            "tickSize": {"condition": {"test": "datum.value % 200 === 0", "value": 12}, "value": 6},
            "labelFont": "Liberation Sans", "labelFontSize": 26, "labelColor": "black",
            "labelPadding": 9, "labelOverlap": false, "labelFlush": false,
            "titleFont": "Liberation Sans", "titleFontSize": 32, "titleFontWeight": "normal", "titleColor": "black",
            "titleAngle": -90, "titleX": -95, "titleY": 378.75, "titleBaseline": "alphabetic", "titleAlign": "center"
          }
        },
        "color": {
          "datum": "3-carene SOA", "type": "nominal",
          "scale": {
            "domain": ["3-carene SOA", "naphthalene SOA", "nap & 3-car SOA", "nap & 3-car mix", "blank"],
            "range": ["#a89f1a", "#6370f4", "#0ad28c", "#007f7a", "#808080"]
          },
          "legend": {
            "title": null, "orient": "none", "legendX": 637, "legendY": 15,
            "symbolType": "M-1,0H9", "symbolSize": 154, "symbolStrokeWidth": 4,
            "labelFont": "Liberation Sans", "labelFontSize": 26, "labelColor": "black", "labelLimit": 0,
            "labelOffset": 50, "rowPadding": 7, "padding": 0
          }
        }
      }
    },
    {
      "data": {"name": "naph"},
      "mark": {"type": "line", "strokeWidth": 1.8, "invalid": "break-paths-show-domains"},
      "encoding": {
        "x": {"field": "t", "type": "quantitative"},
        "y": {"field": "v", "type": "quantitative"},
        "color": {"datum": "naphthalene SOA", "type": "nominal"}
      }
    },
    {
      "data": {"name": "napcar"},
      "mark": {"type": "line", "strokeWidth": 1.8, "invalid": "break-paths-show-domains"},
      "encoding": {
        "x": {"field": "t", "type": "quantitative"},
        "y": {"field": "v", "type": "quantitative"},
        "color": {"datum": "nap & 3-car SOA", "type": "nominal"}
      }
    },
    {
      "data": {"name": "mix"},
      "mark": {"type": "line", "strokeWidth": 1.8, "invalid": "break-paths-show-domains"},
      "encoding": {
        "x": {"field": "t", "type": "quantitative"},
        "y": {"field": "v", "type": "quantitative"},
        "color": {"datum": "nap & 3-car mix", "type": "nominal"}
      }
    },
    {
      "data": {"name": "blank"},
      "mark": {"type": "line", "strokeWidth": 1.8, "invalid": "break-paths-show-domains"},
      "encoding": {
        "x": {"field": "t", "type": "quantitative"},
        "y": {"field": "v", "type": "quantitative"},
        "color": {"datum": "blank", "type": "nominal"}
      }
    },
    {
      "data": {"values": [{}]},
      "mark": {"type": "rule", "color": "black", "strokeWidth": 1.5},
      "encoding": {
        "x": {"datum": 0, "type": "quantitative"},
        "x2": {"datum": 6},
        "y": {"datum": 1400, "type": "quantitative"}
      }
    },
    {
      "data": {"values": [{}]},
      "mark": {"type": "rule", "color": "black", "strokeWidth": 1.5},
      "encoding": {
        "x": {"datum": 18, "type": "quantitative"},
        "x2": {"datum": 55},
        "y": {"datum": 1400, "type": "quantitative"}
      }
    },
    {
      "data": {"values": [{}]},
      "mark": {"type": "rule", "color": "black", "strokeWidth": 1.5},
      "encoding": {
        "x": {"datum": 0, "type": "quantitative"},
        "x2": {"datum": 6},
        "y": {"datum": -100, "type": "quantitative"}
      }
    },
    {
      "data": {"values": [{}]},
      "mark": {"type": "rule", "color": "black", "strokeWidth": 1.5},
      "encoding": {
        "x": {"datum": 18, "type": "quantitative"},
        "x2": {"datum": 55},
        "y": {"datum": -100, "type": "quantitative"}
      }
    },
    {
      "data": {"values": [{}]},
      "mark": {"type": "rule", "color": "black", "strokeWidth": 1.5},
      "encoding": {
        "x": {"datum": 55, "type": "quantitative"},
        "y": {"datum": -100, "type": "quantitative"},
        "y2": {"datum": 1400}
      }
    },
    {
      "data": {"values": [{}]},
      "mark": {"type": "point", "shape": "M-1.6,1.35L0,-1.35M0,1.35L1.6,-1.35", "size": 400, "filled": false, "stroke": "black", "strokeWidth": 1.5, "opacity": 1},
      "encoding": {
        "x": {"datum": 12, "type": "quantitative"},
        "y": {"datum": 1400, "type": "quantitative"}
      }
    },
    {
      "data": {"values": [{}]},
      "mark": {"type": "point", "shape": "M-1.6,1.35L0,-1.35M0,1.35L1.6,-1.35", "size": 400, "filled": false, "stroke": "black", "strokeWidth": 1.5, "opacity": 1},
      "encoding": {
        "x": {"datum": 12, "type": "quantitative"},
        "y": {"datum": -100, "type": "quantitative"}
      }
    },
    {
      "data": {"values": [{}]},
      "mark": {"type": "rule", "color": "black", "strokeWidth": 1.5},
      "encoding": {
        "x": {"datum": 24.175, "type": "quantitative"},
        "y": {"datum": 747, "type": "quantitative"},
        "x2": {"datum": 25.3},
        "y2": {"datum": 642}
      }
    },
    {
      "data": {"values": [{}]},
      "mark": {"type": "point", "shape": "M0,0L-0.75,-2.1L0.75,-2.1Z", "size": 400, "filled": true, "color": "black", "opacity": 1, "angle": -24.3},
      "encoding": {
        "x": {"datum": 25.348, "type": "quantitative"},
        "y": {"datum": 632.9, "type": "quantitative"}
      }
    },
    {
      "data": {"values": [{}]},
      "mark": {"type": "rule", "color": "black", "strokeWidth": 1.5},
      "encoding": {
        "x": {"datum": 34.975, "type": "quantitative"},
        "y": {"datum": 387.3, "type": "quantitative"},
        "x2": {"datum": 35.69},
        "y2": {"datum": 316}
      }
    },
    {
      "data": {"values": [{}]},
      "mark": {"type": "point", "shape": "M0,0L-0.75,-2.1L0.75,-2.1Z", "size": 400, "filled": true, "color": "black", "opacity": 1, "angle": -22.7},
      "encoding": {
        "x": {"datum": 35.729, "type": "quantitative"},
        "y": {"datum": 308.1, "type": "quantitative"}
      }
    },
    {
      "data": {"values": [{}]},
      "mark": {"type": "text", "text": "25 min", "font": "Liberation Sans", "fontSize": 24, "color": "black", "align": "center", "baseline": "middle"},
      "encoding": {
        "x": {"datum": 24.22, "type": "quantitative"},
        "y": {"datum": 781.8, "type": "quantitative"}
      }
    },
    {
      "data": {"values": [{}]},
      "mark": {"type": "text", "text": "36 min", "font": "Liberation Sans", "fontSize": 24, "color": "black", "align": "center", "baseline": "middle"},
      "encoding": {
        "x": {"datum": 34.99, "type": "quantitative"},
        "y": {"datum": 425.3, "type": "quantitative"}
      }
    }
  ]
}
